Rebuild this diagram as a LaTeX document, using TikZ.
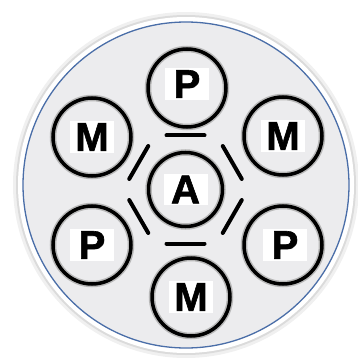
\documentclass[tikz,border=0pt]{standalone}
\usepackage{fontspec}
\setmainfont{Liberation Sans}
\newfontfamily\heavyfont[BoldFeatures={FakeBold=1.6}]{Liberation Sans}
\usetikzlibrary{calc}

\definecolor{rimblue}{HTML}{4A6EA8}
\definecolor{diskgray}{HTML}{ECECEE}

\begin{document}
\begin{tikzpicture}[x=1pt,y=-1pt,
        ring/.style={circle,draw=black,line width=3.5pt,minimum size=78pt,
                     preaction={draw=black!28,line width=6.5pt}},
        hub/.style={ring,minimum size=74pt},
        tag/.style={fill=white,inner xsep=2pt,inner ysep=2pt,minimum width=44pt,
                    font=\fontsize{40}{40}\heavyfont\bfseries}]
        \useasboundingbox (0,0) rectangle (357,358);
        % plate
        \fill[black!6] (186,185) circle (173pt);
        \fill[black!14] (186,185) circle (170pt);
        \fill[white] (186,185) circle (168pt);
        \fill[diskgray] (186,185) circle (163pt);
        \draw[rimblue,line width=1.3pt] (186,185) circle (163pt);

        \node[hub] (hub) at (185.5,189.5) {};
        \node[ring] (ptop) at (187,88) {};
        \node[ring] (mleft) at (92,137) {};
        \node[ring] (mright) at (283,136) {};
        \node[ring] (pleft) at (92,245) {};
        \node[ring] (pright) at (283,245) {};
        \node[ring] (mbot) at (191,297) {};

        \node[tag] (a) at (hub) {A};
        \node[tag] (ptop-l) at ($(ptop)+(0,-4)$) {P};
        \node[tag] (mleft-l) at (mleft) {M};
        \node[tag] (mright-l) at (mright) {M};
        \node[tag] (pleft-l) at (pleft) {P};
        \node[tag] (pright-l) at ($(pright)+(2,0)$) {P};
        \node[tag] (mbot-l) at (mbot) {M};

        % hexagon round the hub
        \foreach \ang in {30,90,...,330}
            \draw[line width=4pt,line cap=round]
                ($(hub)+(\ang:54pt)+(\ang+90:19pt)$) --
                ($(hub)+(\ang:54pt)+(\ang-90:19pt)$);
\end{tikzpicture}
\end{document}
